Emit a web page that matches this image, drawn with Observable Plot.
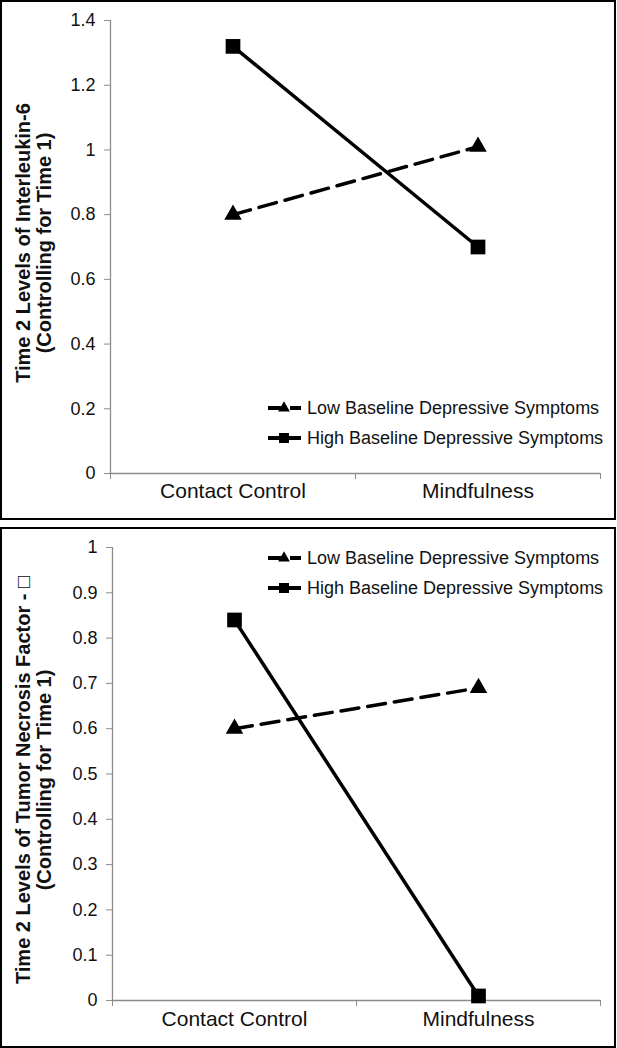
<!DOCTYPE html>
<html>
<head>
<meta charset="utf-8">
<script src="https://cdn.jsdelivr.net/npm/d3@7"></script>
<script src="https://cdn.jsdelivr.net/npm/@observablehq/plot@0.6"></script>
<style>
  html, body { margin: 0; padding: 0; background: #fff; }
  body { width: 617px; height: 1048px; position: relative; font-family: "Liberation Sans", Arial, sans-serif; }
  .panel { position: absolute; left: 0; width: 616px; box-sizing: border-box; border: 2px solid #000; background: #fff; }
  .panel svg { display: block; }
  .legend { position: absolute; font-size: 18px; color: #111; }
  .legend .row { display: flex; align-items: center; height: 30px; white-space: nowrap; }
  .legend svg { margin-right: 5px; }
</style>
</head>
<body>
<div id="p1" class="panel" style="top:0; height:520px;"></div>
<div id="p2" class="panel" style="top:527px; height:521px;"></div>
<div id="legend1" class="legend" style="left:268px; top:393px;"></div>
<div id="legend2" class="legend" style="left:268px; top:543px;"></div>
<script>
// ---- data ----
const categories = ["Contact Control", "Mindfulness"];
const seriesNames = ["Low Baseline Depressive Symptoms", "High Baseline Depressive Symptoms"];
const il6Low = [0.80, 1.01];
const il6High = [1.32, 0.70];
const tnfLow = [0.60, 0.69];
const tnfHigh = [0.84, 0.01];
const il6Ticks = [0, 0.2, 0.4, 0.6, 0.8, 1, 1.2, 1.4];
const tnfTicks = [0, 0.1, 0.2, 0.3, 0.4, 0.5, 0.6, 0.7, 0.8, 0.9, 1];
const il6Label = ["Time 2 Levels of Interleukin-6", "(Controlling for Time 1)"];
const tnfLabel = ["Time 2 Levels of Tumor Necrosis Factor - \u25A1\uFE0E", "(Controlling for Time 1)"];

const FONT = "'Liberation Sans', Arial, 'DejaVu Sans', sans-serif";
const GRAY = "#8c8c8c";

function rows(values, series) {
  return values.map((v, i) => ({category: categories[i], idx: i + 0.5, series, value: v}));
}

function panel(opts) {
  const low = rows(opts.low, seriesNames[0]);
  const high = rows(opts.high, seriesNames[1]);
  return Plot.plot({
    width: opts.width,
    height: opts.height,
    marginLeft: opts.ml,
    marginRight: opts.mr,
    marginTop: opts.mt,
    marginBottom: opts.mb,
    style: {fontFamily: FONT, background: "#fff", overflow: "visible"},
    x: {type: "linear", domain: [0, categories.length], axis: null},
    y: {domain: [0, opts.ticks[opts.ticks.length - 1]], axis: null},
    marks: [
      Plot.ruleX([0], {stroke: GRAY, strokeWidth: 1.3}),
      Plot.ruleY([0], {stroke: GRAY, strokeWidth: 1.3}),
      Plot.axisY({ticks: opts.ticks, label: null, tickSize: 6, tickPadding: 9, fontSize: 18, stroke: GRAY, fill: "#111", tickFormat: d3.format("~g")}),
      Plot.axisX({ticks: d3.range(categories.length + 1), label: null, tickSize: 6, tickFormat: () => "", stroke: GRAY}),
      Plot.text(categories, {x: (d, i) => i + 0.5, frameAnchor: "bottom", dy: opts.catDy, fontSize: 21, fill: "#111"}),
      Plot.text([opts.label.join("\n")], {frameAnchor: "left", textAnchor: "middle", rotate: -90, dx: opts.labelDx, dy: opts.labelDy, fontSize: 20, fontWeight: "bold", lineHeight: 1.05, fill: "#111"}),
      Plot.line(low, {x: "idx", y: "value", stroke: "#000", strokeWidth: 3.5, strokeDasharray: "18,9"}),
      Plot.line(high, {x: "idx", y: "value", stroke: "#000", strokeWidth: 3.5}),
      Plot.dot(low, {x: "idx", y: "value", symbol: "triangle", r: 6.5, fill: "#000", stroke: "none"}),
      Plot.dot(high, {x: "idx", y: "value", symbol: "square", r: 8.3, fill: "#000", stroke: "none"})
    ]
  });
}

document.getElementById("p1").appendChild(panel({
  low: il6Low, high: il6High, ticks: il6Ticks, label: il6Label,
  width: 612, height: 516, ml: 108, mr: 14, mt: 18, mb: 45,
  catDy: 24, labelDx: -77, labelDy: -4
}));
document.getElementById("p2").appendChild(panel({
  low: tnfLow, high: tnfHigh, ticks: tnfTicks, label: tnfLabel,
  width: 612, height: 517, ml: 110, mr: 14, mt: 18, mb: 46,
  catDy: 25, labelDx: -79, labelDy: 6
}));

function legend(el) {
  seriesNames.forEach((name, k) => {
    const row = document.createElement("div");
    row.className = "row";
    const svg = d3.create("svg").attr("width", 34).attr("height", 20);
    svg.append("line").attr("x1", 0).attr("x2", 33).attr("y1", 10).attr("y2", 10)
      .attr("stroke", "#000").attr("stroke-width", 4)
      .attr("stroke-dasharray", k === 0 ? "14,8" : null);
    if (k === 0) {
      svg.append("path").attr("transform", "translate(16,10)")
        .attr("d", d3.symbol(d3.symbolTriangle, 60)()).attr("fill", "#000");
    } else {
      svg.append("rect").attr("x", 11).attr("y", 5).attr("width", 10).attr("height", 10).attr("fill", "#000");
    }
    row.appendChild(svg.node());
    const span = document.createElement("span");
    span.textContent = name;
    row.appendChild(span);
    el.appendChild(row);
  });
}
legend(document.getElementById("legend1"));
legend(document.getElementById("legend2"));
</script>
</body>
</html>
